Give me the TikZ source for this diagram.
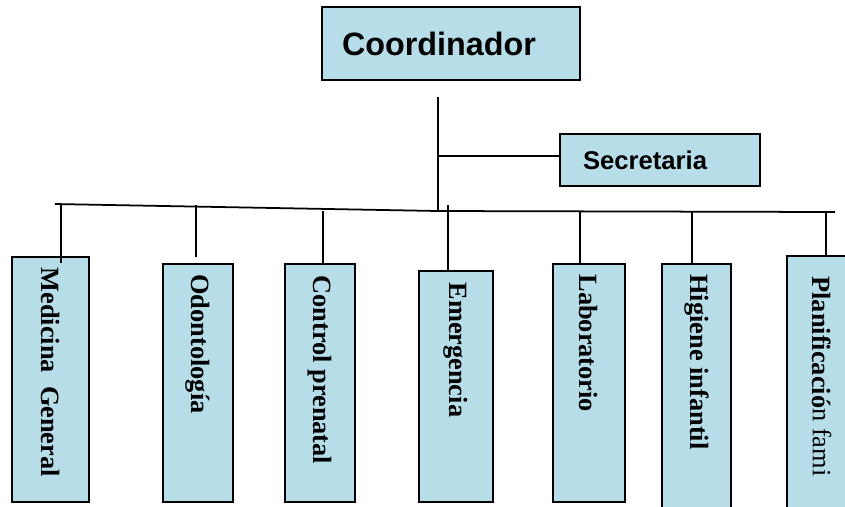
\documentclass[tikz,border=0pt]{standalone}
\usepackage{fontspec}
\setmainfont{Liberation Serif}
\setsansfont{Liberation Sans}
\definecolor{boxblue}{RGB}{183,221,232}

\tikzset{%
  boss/.style={
    rectangle,
    draw,
    line width=1pt,
    fill=boxblue,
    inner xsep=0.4cm,
    align=left
  },
  unit/.style={
    rectangle,
    draw,
    line width=1pt,
    fill=boxblue
  },
  unit label/.style={
    rotate=-90,
    anchor=west,
    inner sep=0pt,
    font=\bfseries\fontsize{15}{18}\selectfont
  },
  link/.style={line width=1pt},
}

\begin{document}
\begin{tikzpicture}
\clip (0,0) rectangle (16.9,-10.12);
\node[boss, text width=4.36cm, minimum height=1.46cm, font=\sffamily\bfseries\fontsize{18.4}{22}\selectfont] (coord) at (9.02,-0.87) {Coordinador};
\node[boss, inner xsep=0.46cm, text width=3.08cm, minimum height=1.04cm, font=\sffamily\bfseries\fontsize{14.6}{18}\selectfont] (sec) at (13.2,-3.2) {Secretaria};

\node[unit, minimum width=1.54cm, minimum height=4.90cm] (med) at (1.01,-7.59) {};
\node[unit, minimum width=1.40cm, minimum height=4.76cm] (odo) at (3.96,-7.66) {};
\node[unit, minimum width=1.40cm, minimum height=4.76cm] (con) at (6.40,-7.66) {};
\node[unit, minimum width=1.48cm, minimum height=4.62cm] (eme) at (9.12,-7.73) {};
\node[unit, minimum width=1.44cm, minimum height=4.76cm] (lab) at (11.78,-7.66) {};
\node[unit, minimum width=1.38cm, minimum height=5.12cm] (hig) at (13.93,-7.84) {};
\node[unit, minimum width=1.40cm, minimum height=5.28cm] (pla) at (16.44,-7.76) {};

\node[unit label] (med-t) at ([yshift=-0.22cm]med.north) {Medicina\ \ General};
\node[unit label] (odo-t) at ([yshift=-0.22cm]odo.north) {Odontología};
\node[unit label] (con-t) at ([yshift=-0.24cm]con.north) {Control prenatal};
\node[unit label] (eme-t) at ([yshift=-0.24cm]eme.north) {Emergencia};
\node[unit label] (lab-t) at ([yshift=-0.22cm]lab.north) {Laboratorio};
\node[unit label] (hig-t) at ([yshift=-0.22cm]hig.north) {Higiene infantil};
\node[unit label] (pla-t) at ([yshift=-0.42cm]pla.north) {Planificació{\mdseries n fami}};

\coordinate (hub) at (8.76,-4.22);
\draw[link] (8.76,-1.94) -- (hub);
\draw[link] (8.76,-3.12) -- (8.76,-3.12 -| sec.west);
\draw[link] (1.10,-4.08) -- (hub) -- (16.70,-4.24);

\draw[link] (1.22,-4.10) -- (1.22,-5.26);
\draw[link] (3.92,-4.10) -- (3.92,-5.14);
\draw[link] (6.46,-4.22) -- (6.46,-4.22 |- con.north);
\draw[link] (8.96,-4.10) -- (8.96,-4.10 |- eme.north);
\draw[link] (11.60,-4.22) -- (11.60,-4.22 |- lab.north);
\draw[link] (13.84,-4.22) -- (13.84,-4.22 |- hig.north);
\draw[link] (16.52,-4.22) -- (16.52,-4.22 |- pla.north);
\end{tikzpicture}
\end{document}
